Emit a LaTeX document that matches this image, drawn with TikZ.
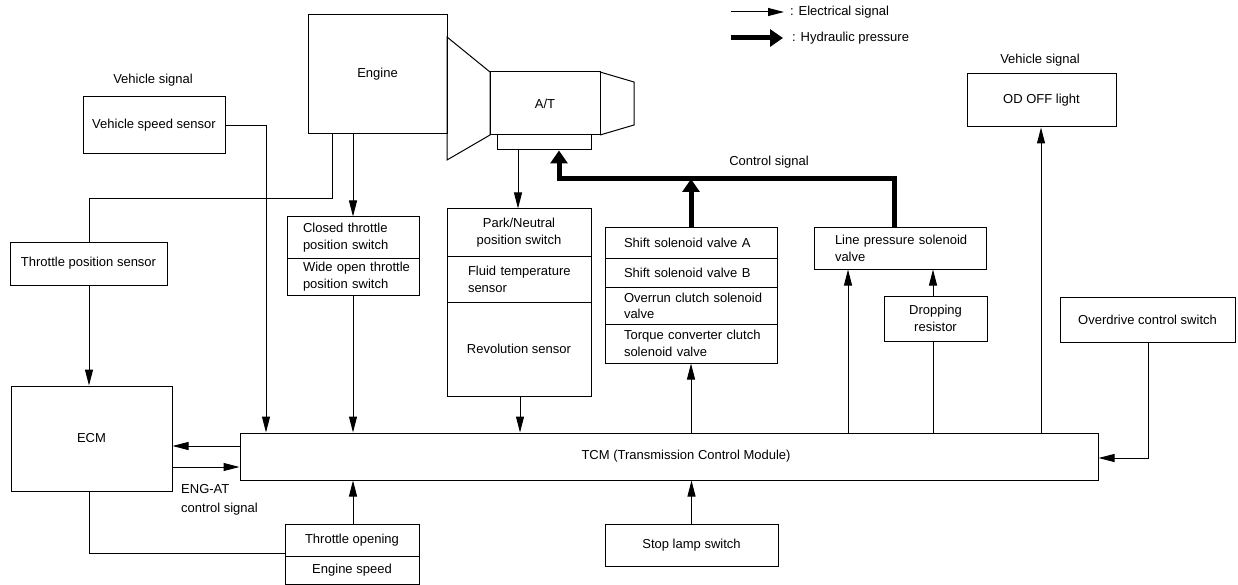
\documentclass[tikz,border=0pt]{standalone}
\usepackage{fontspec}
\setmainfont{Liberation Sans}
\usetikzlibrary{arrows.meta}
\tikzset{
  box/.style={draw, line width=1pt, inner sep=0pt, align=center},
  lcell/.style={draw, line width=1pt, inner sep=0pt, align=left, text width=#1},
  lbl/.style={inner sep=0pt},
  el/.style={line width=1pt},
  ea/.style={line width=1pt, -{Triangle[length=16pt,width=8pt]}},
  hl/.style={line width=5pt},
  ha/.style={line width=5pt, -{Triangle[length=13pt,width=17pt]}},
}
\newcommand\ind[1]{\hspace*{#1pt}}
\begin{document}
\begin{tikzpicture}[x=1pt,y=-1pt,font=\fontsize{13}{17}\selectfont]
\useasboundingbox (0,0) rectangle (1238,585);

% column / row helper coordinates
\coordinate (cA) at (266,0);
\coordinate (cE1) at (332,0);
\coordinate (cE2) at (353,0);
\coordinate (cT) at (89,0);
\coordinate (cVB) at (518,0);
\coordinate (cPK) at (520,0);
\coordinate (cLP) at (848,0);
\coordinate (cDR) at (933,0);
\coordinate (cOD) at (1041,0);
\coordinate (cOC) at (1148,0);
\coordinate (cH) at (559,0);
\coordinate (cHR) at (894,0);
\coordinate (yH) at (0,179);
\coordinate (yTop) at (0,199);
\coordinate (yEC1) at (0,446);
\coordinate (yEC2) at (0,467);
\coordinate (yOC) at (0,458);
\coordinate (yBot) at (0,553);

% legend
\coordinate (lgEa) at (731,12);
\coordinate (lgEb) at (784,12);
\coordinate (lgHa) at (731,38);
\coordinate (lgHb) at (783,38);
\draw[ea] (lgEa) -- (lgEb);
\node[lbl, anchor=west] (lgE) at (790,12) {: Electrical signal};
\draw[ha] (lgHa) -- (lgHb);
\node[lbl, anchor=west] (lgH) at (792,38) {: Hydraulic pressure};

% labels
\node[lbl] (vsigL) at (153,80) {Vehicle signal};
\node[lbl] (vsigR) at (1040,60) {Vehicle signal};
\node[lbl] (ctrl) at (769,162) {Control signal};
\node[lbl, anchor=west, align=left, font=\fontsize{13}{19}\selectfont] (engat) at (181,499.5) {ENG-AT\\control signal};

% left side
\node[box, minimum width=142pt, minimum height=57pt] (vss) at (154,125.5) {Vehicle speed sensor};
\node[box, minimum width=157pt, minimum height=43pt] (tps) at (88.5,263.5) {Throttle position sensor};
\node[box, minimum width=161pt, minimum height=105pt] (ecm) at (91.5,438.5) {ECM};

% engine and transmission
\node[box, minimum width=139pt, minimum height=119pt] (engine) at (377.5,74.5) {Engine};
\draw[el] (447,37) -- (490,72) -- (490,135) -- (447,160) -- cycle;
\node[box, minimum width=110pt, minimum height=63pt] (at) at (545,103.5) {A/T};
\draw[el] (600,72) -- (634,82) -- (634,125) -- (600,135);
\node[box, minimum width=94pt, minimum height=15pt] (vb) at (544,142.5) {};

% throttle switches
\node[lcell=132pt, minimum height=41pt] (ctps1) at (353,237.5) {\ind{16}Closed throttle\\\ind{16}position switch};
\node[lcell=132pt, minimum height=37pt] (ctps2) at (353,276.5) {\ind{16}Wide open throttle\\\ind{16}position switch};

% park / fluid / revolution
\node[box, minimum width=144pt, minimum height=47pt] (park1) at (519,232.5) {Park/Neutral\\position switch};
\node[lcell=144pt, minimum height=46pt] (park2) at (519,279) {\ind{21}Fluid temperature\\\ind{21}sensor};
\node[box, minimum width=144pt, minimum height=94pt] (park3) at (519,349) {Revolution sensor};

% solenoids
\node[lcell=172pt, minimum height=30pt] (shift1) at (691,243) {\ind{19}Shift solenoid valve A};
\node[lcell=172pt, minimum height=29pt] (shift2) at (691,272.5) {\ind{19}Shift solenoid valve B};
\node[lcell=172pt, minimum height=37pt, font=\fontsize{13}{16}\selectfont] (shift3) at (691,305.5) {\ind{19}Overrun clutch solenoid\\\ind{19}valve};
\node[lcell=172pt, minimum height=39pt] (shift4) at (691,343.5) {\ind{19}Torque converter clutch\\\ind{19}solenoid valve};
\node[lcell=172pt, minimum height=41pt] (lps) at (900,248.5) {\ind{21}Line pressure solenoid\\\ind{21}valve};
\node[box, minimum width=103pt, minimum height=45pt] (drop) at (935.5,318.5) {Dropping\\resistor};

% right side
\node[box, minimum width=149pt, minimum height=53pt] (odoff) at (1041.5,100.5) {OD OFF light};
\node[box, minimum width=175pt, minimum height=45pt] (odcs) at (1147.5,319.5) {Overdrive control switch};

% TCM
\node[box, minimum width=858pt, minimum height=47pt] (tcm) at (669,456.5) {\ind{34}TCM (Transmission Control Module)};

% bottom
\node[box, minimum width=173pt, minimum height=42pt] (stop) at (691.5,545) {Stop lamp switch};
\node[box, minimum width=134pt, minimum height=32pt] (thr1) at (352,540) {Throttle opening};
\node[box, minimum width=134pt, minimum height=28pt] (thr2) at (352,570) {Engine speed};

% electrical connectors
\draw[ea] (vss.east) -| (tcm.north -| cA);
\draw[el] (engine.south -| cE1) |- (cT |- yTop) -- (tps.north -| cT);
\draw[ea] (engine.south -| cE2) -- (ctps1.north -| cE2);
\draw[ea] (ctps2.south -| cE2) -- (tcm.north -| cE2);
\draw[ea] (tps.south -| cT) -- (ecm.north -| cT);
\draw[ea] (tcm.west |- yEC1) -- (ecm.east |- yEC1);
\draw[ea] (ecm.east |- yEC2) -- (tcm.west |- yEC2);
\draw[el] (ecm.south -| cT) |- (thr1.west |- yBot);
\draw[ea] (thr1.north -| cE2) -- (tcm.south -| cE2);
\draw[ea] (vb.south -| cVB) -- (park1.north -| cVB);
\draw[ea] (park3.south -| cPK) -- (tcm.north -| cPK);
\draw[ea] (tcm.north -| shift4.south) -- (shift4.south);
\draw[ea] (stop.north) -- (tcm.south -| stop.north);
\draw[ea] (tcm.north -| cLP) -- (lps.south -| cLP);
\draw[el] (tcm.north -| cDR) -- (drop.south -| cDR);
\draw[ea] (drop.north -| cDR) -- (lps.south -| cDR);
\draw[ea] (tcm.north -| cOD) -- (odoff.south -| cOD);
\draw[ea] (odcs.south -| cOC) |- (tcm.east |- yOC);

% hydraulic connectors
\draw[ha] (shift1.north) -- (shift1.north |- yH);
\draw[ha] (lps.north -| cHR) |- (cH |- yH) -- (vb.south -| cH);
\end{tikzpicture}
\end{document}
